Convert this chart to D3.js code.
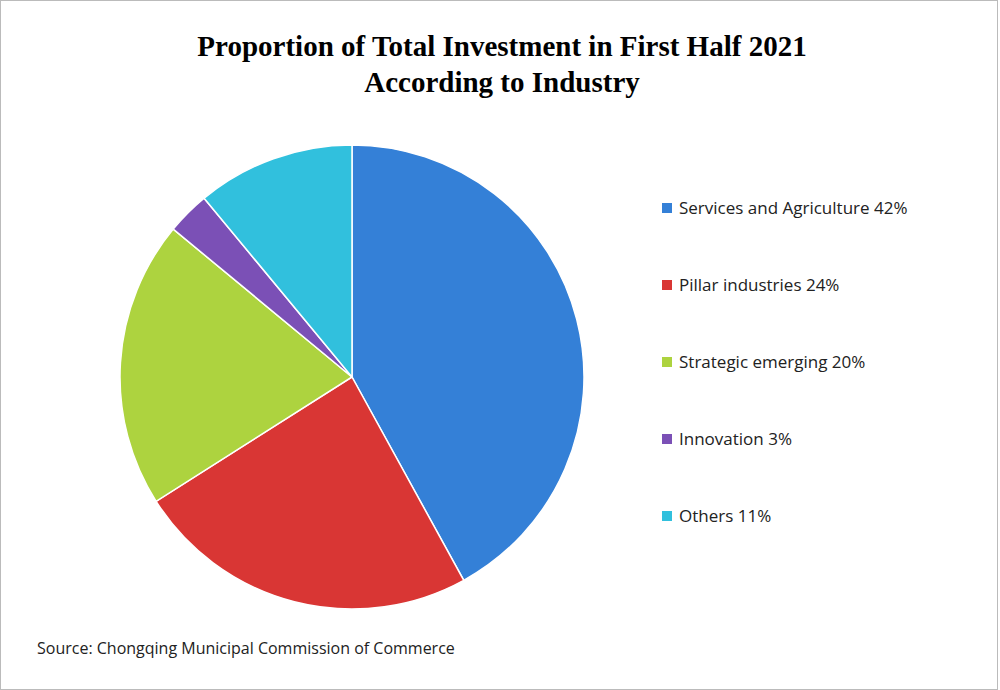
<!DOCTYPE html>
<html><head><meta charset="utf-8">
<script src="https://cdn.jsdelivr.net/npm/d3@7"></script>
<style>body{margin:0;background:#fff}</style></head>
<body><svg id="c" width="1000" height="690"></svg>
<script>
const categories = ["Services and Agriculture", "Pillar industries", "Strategic emerging", "Innovation", "Others"];
const values = [42, 24, 20, 3, 11];
const colors = ["#3480d7", "#d93634", "#add33f", "#7b50b6", "#31c0dd"];
const titleLines = ["Proportion of Total Investment in First Half 2021", "According to Industry"];
const source = "Source: Chongqing Municipal Commission of Commerce";

const svg = d3.select("#c");
svg.append("rect").attr("x",0.5).attr("y",0.5).attr("width",997).attr("height",689)
  .attr("fill","#fff").attr("stroke","#bbb");
svg.selectAll("text.t").data(titleLines).join("text")
  .attr("x",502).attr("y",(d,i)=>56+i*36).attr("text-anchor","middle")
  .attr("font-family","Liberation Serif, Times New Roman, serif").attr("font-weight","bold")
  .attr("font-size",29).attr("fill","#000").text(d=>d);

const pie = d3.pie().sort(null).value(d=>d)(values);
const arc = d3.arc().innerRadius(0).outerRadius(232);
const g = svg.append("g").attr("transform","translate(352,377)");
g.selectAll("path").data(pie).join("path").attr("d",arc)
  .attr("fill",(d,i)=>colors[i]).attr("stroke","#fff").attr("stroke-width",1.5);

const y = d3.scalePoint().domain(categories).range([208,516]);
const lg = svg.append("g");
categories.forEach((c,i)=>{
  lg.append("rect").attr("x",662).attr("y",y(c)-5).attr("width",10).attr("height",10).attr("fill",colors[i]);
  lg.append("text").attr("x",679).attr("y",y(c)+6).attr("font-family","Open Sans, sans-serif")
    .attr("font-size",17).attr("fill","#222").text(c+" "+values[i]+"%");
});
svg.append("text").attr("x",37).attr("y",654).attr("font-family","Open Sans, sans-serif")
  .attr("font-size",16).attr("fill","#222").text(source);
</script></body></html>
